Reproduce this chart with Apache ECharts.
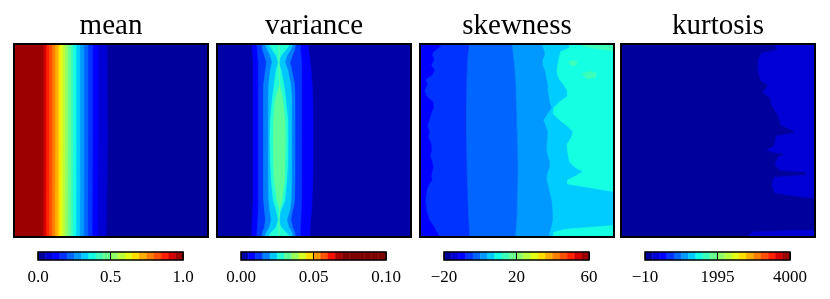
<!DOCTYPE html>
<html><head><meta charset="utf-8">
<script src="https://cdn.jsdelivr.net/npm/echarts@6/dist/echarts.min.js"></script>
<style>html,body{margin:0;padding:0;background:#fff}#c{width:830px;height:299px}</style>
</head><body><div id="c"></div>
<script>
// ---------- DATA ----------
const titles = ['mean', 'variance', 'skewness', 'kurtosis'];

// contour levels (colorbar bands)
const meanLevels = [0,0.05,0.1,0.15,0.2,0.25,0.3,0.35,0.4,0.45,0.5,0.55,0.6,0.65,0.7,0.75,0.8,0.85,0.9,0.95,1.0];
const varLevels = [0,0.005,0.01,0.015,0.02,0.025,0.03,0.035,0.04,0.045,0.05,0.055,0.06,0.065,0.07,0.075,0.08,0.085,0.09,0.095,0.1];
const skewLevels = [-20,-16,-12,-8,-4,0,4,8,12,16,20,24,28,32,36,40,44,48,52,56,60];
const kurtLevels = [-10,190.5,391,591.5,792,992.5,1193,1393.5,1594,1794.5,1995,2195.5,2396,2596.5,2797,2997.5,3198,3398.5,3599,3799.5,4000];

// colorbar tick values and labels
const meanTickVals = [0, 0.5, 1.0];      const meanTicks = ['0.0', '0.5', '1.0'];
const varTickVals = [0, 0.05, 0.1];      const varTicks = ['0.00', '0.05', '0.10'];
const skewTickVals = [-20, 20, 60];      const skewTicks = ['\u221220', '20', '60'];
const kurtTickVals = [-10, 1995, 4000];  const kurtTicks = ['\u221210', '1995', '4000'];

// mean: contour x-positions (0..100) at y = meanYs, for levels 0.05 .. 0.95 (field >= level left of line)
const meanYs = [0, 50, 100];
const meanEdges = [
  [47.9,48.2,47.4],[43.3,43.3,43.0],[40.5,40.5,40.3],[38.1,38.1,38.0],[36.1,36.1,36.0],
  [34.0,34.0,33.9],[32.0,32.0,31.9],[30.4,30.4,30.3],[29.1,29.1,29.0],[27.6,27.6,27.5],
  [26.3,26.3,26.2],[25.0,25.0,24.9],[23.7,23.7,23.6],[22.7,22.7,22.6],[21.1,21.1,21.0],
  [19.6,19.6,19.5],[18.0,18.0,17.9],[16.5,16.5,16.4],[15.1,15.1,15.0]
];

// variance: ridge, field >= level between lo and hi, sampled at varYs
const varYs = [0,3,6,9.5,13.5,21,29,39.5,50,60,70.5,81,86,91,95,97.5,100];
const var005Lo = [18.0,18.2,18.4,18.6,18.6,18.6,18.6,18.6,18.6,18.6,18.6,18.6,18.4,18.2,18.0,18.0,18.0];
const var005Hi = [46.9,47.2,47.6,48,48.5,49,49.3,49.5,49.5,49.5,49.3,49,48.7,48.3,48,47.9,47.9];
const var010Lo = [20.5,20.8,21,21.3,21.3,21.3,21.3,21.3,21.3,21.3,21.3,21.3,21.3,21,20.8,20.6,20.5];
const var010Hi = [42.8,43,43.3,43.6,43.6,43.6,43.6,43.6,43.6,43.6,43.6,43.6,43.4,43.2,43,42.9,42.8];
const var015Lo = [23,23.5,24.5,25.6,25,24,23.9,23.9,23.9,23.9,23.9,24,24.5,25,24.5,23.5,23];
const var015Hi = [40.5,40,38.8,37.6,38.5,40,40.2,40.2,40.2,40.2,40.2,40,39,38,39,40,40.5];
const var020Lo = [24.7,26,27.5,28.5,27.5,26.7,26.5,26.5,26.5,26.5,26.5,26.7,27.2,28,27,25.5,24.7];
const var020Hi = [39.2,38,36,35,36.5,38,38.5,38.5,38.5,38.5,38.5,38.2,37.5,36,37,38.5,39.2];
const var025Lo = [26.5,28.5,30.5,31.6,30.5,29.5,28.5,27.5,27.3,27.5,28,29,30.5,31.6,30.5,28,26.5];
const var025Hi = [37.6,35.5,33,31.6,33,34.5,35.5,36.5,36.6,36.5,36,35,33,31.6,33,35.5,37.6];
const var030Lo = [32,32,32,32,32,32.3,30,29.2,29,29.2,29.5,31,32.3,32,32,32,32];
const var030Hi = [32,32,32,32,32,32.3,34,35,35.2,35,34.8,33.5,32.3,32,32,32,32];

// skewness: field >= level right of the edge, sampled at skewYs
const skewYs = [0,2,4,6,8,11,13.5,16,18.5,21,24,27,30,33,36,39.5,42.5,45.5,48.5,52,55,58,61,64,66,68.5,70.5,72.5,74.5,76.5,81,86,91,94,96,97.5,100];
const skewEdgeM8 = [11.3,10,7,6.5,7.5,6,7.7,6.5,3,4,2.5,3.5,7,7.2,6,5,4,5,4.5,6,6.2,5.5,6.5,7,6.5,6,6.5,5,4,3.6,3,3.5,5,7,8,9,10.3];
const skewEdgeM4 = [25.5,25.3,25.0,24.8,24.6,24.5,24.4,24.3,24.2,24.2,24.1,24.1,24.0,24.0,24.0,24.0,24.0,24.0,24.0,24.1,24.1,24.2,24.2,24.3,24.3,24.4,24.5,24.5,24.6,24.7,24.8,25.0,25.2,25.4,25.5,25.6,25.7];
const skewEdge0 = [47.5,47.8,48,48.2,48.5,48.8,49,49.2,49.4,49.5,49.6,49.6,49.8,49.8,50,50,50,50.2,50.3,50.4,50.5,50.5,50.6,50.6,50.6,50.6,50.5,50.5,50.4,50.4,50.3,50.2,50,49.8,49.6,49.5,49.3];
const skewEdge4 = [62.9,63.5,64.4,64.4,63.4,63.4,64.5,65,65.5,66,66,66.5,67,68,66,63.8,65,66,65.8,65.5,65.5,66,67,67,66,65.5,65.5,66,66.5,67,68,68.5,68.6,68,67.5,67,66.5];
const skewEdge8 = [77,77,72.5,72,71.5,71,70.6,71,72,74,75.8,76,72,69,68.6,72,76,78.9,78,75.8,76,76.5,77,80,84,80,76,76,88,100,100,100,100,100,75,69,68.5];
const skewIsland12a = [[83,0],[100,0],[100,3.5],[95,3],[88,2],[84,1]];
const skewIsland12b = [[76.5,9.5],[78.5,8.5],[81,9.2],[80.5,11],[78,11.2]];
const skewIsland12c = [[83.5,15.5],[87,14.3],[91,15],[90,17.5],[86,18]];

// kurtosis: field >= 190.5 right of the edge
const kurtYs = [0,1.6,3.1,4.7,8.3,13.5,18.7,21.8,24.9,28,32.1,36.8,42,44.6,46.1,47.7,52.8,54.9,56,57,58.5,62.7,65.3,66.3,67.9,69,73,77.2,78.8,79.8,96.4,97.4,100];
const kurtEdge = [79,80,81,72.7,70.6,70.6,72,75.8,73,77,77.8,81,82.5,88,89.7,80,79,75.3,78,85,81,79.4,82,95,96,79,77.8,79.4,90,100,100,68,65];

// ---------- STYLE / BUILD ----------
const FONT = 'Liberation Serif';
const panelLeft = [14, 217, 420, 621];
const PW = 194, PT = 44, PH = 193;
const levelsAll = [meanLevels, varLevels, skewLevels, kurtLevels];
const colorRange = [[0,1],[0,0.07],[-20,60],[-10,4000]];
const tickVals = [meanTickVals, varTickVals, skewTickVals, kurtTickVals];
const tickLabels = [meanTicks, varTicks, skewTicks, kurtTicks];

function jet(t){
  t = Math.max(0, Math.min(1, t));
  let r, g, b;
  if (t < 0.35) r = 0; else if (t < 0.66) r = (t-0.35)/0.31; else if (t < 0.89) r = 1; else r = 1 - 0.5*(t-0.89)/0.11;
  if (t < 0.125) g = 0; else if (t < 0.375) g = (t-0.125)/0.25; else if (t < 0.64) g = 1; else if (t < 0.91) g = 1-(t-0.64)/0.27; else g = 0;
  if (t < 0.11) b = 0.5 + 0.5*t/0.11; else if (t < 0.34) b = 1; else if (t < 0.65) b = 1-(t-0.34)/0.31; else b = 0;
  return 'rgb(' + Math.round(r*255) + ',' + Math.round(g*255) + ',' + Math.round(b*255) + ')';
}
function bandColor(p, lv){
  const L = levelsAll[p];
  let i = 0; for (let k = 0; k < L.length-1; k++) if (Math.abs(L[k]-lv) < 1e-9) i = k;
  const mid = (L[i]+L[i+1])/2, cr = colorRange[p];
  return jet((mid-cr[0])/(cr[1]-cr[0]));
}
function strip(ys, lo, hi){
  const a = [], b = [];
  ys.forEach((y, i) => {
    a.push([typeof lo === 'number' ? lo : lo[i], y]);
    b.push([typeof hi === 'number' ? hi : hi[i], y]);
  });
  return a.concat(b.reverse());
}
const FULL = [[0,0],[100,0],[100,100],[0,100]];

const regions = [
  [{lv:0, pts:FULL}].concat(meanEdges.map((e, k) => ({lv: meanLevels[k+1], pts: strip(meanYs, 0, e)}))),
  [{lv:0, pts:FULL},
   {lv:0.005, pts: strip(varYs, var005Lo, var005Hi)},
   {lv:0.01, pts: strip(varYs, var010Lo, var010Hi)},
   {lv:0.015, pts: strip(varYs, var015Lo, var015Hi)},
   {lv:0.02, pts: strip(varYs, var020Lo, var020Hi)},
   {lv:0.025, pts: strip(varYs, var025Lo, var025Hi)},
   {lv:0.03, pts: strip(varYs, var030Lo, var030Hi)}],
  [{lv:-12, pts:FULL},
   {lv:-8, pts: strip(skewYs, skewEdgeM8, 100)},
   {lv:-4, pts: strip(skewYs, skewEdgeM4, 100)},
   {lv:0, pts: strip(skewYs, skewEdge0, 100)},
   {lv:4, pts: strip(skewYs, skewEdge4, 100)},
   {lv:8, pts: strip(skewYs, skewEdge8, 100)},
   {lv:12, pts: skewIsland12a},
   {lv:12, pts: skewIsland12b},
   {lv:12, pts: skewIsland12c}],
  [{lv:-10, pts:FULL},
   {lv:190.5, pts: strip(kurtYs, kurtEdge, 100)}]
];
regions.forEach((rs, p) => rs.forEach(r => r.color = bandColor(p, r.lv)));

const grid = [], xAxis = [], yAxis = [], series = [], title = [];
for (let p = 0; p < 4; p++) {
  // main panel
  grid.push({left: panelLeft[p], top: PT, width: PW, height: PH, containLabel: false});
  xAxis.push({type:'value', gridIndex: 2*p, min:0, max:100, show:false});
  yAxis.push({type:'value', gridIndex: 2*p, min:0, max:100, inverse:true, show:false});
  const regs = regions[p];
  series.push({
    type:'custom', xAxisIndex: 2*p, yAxisIndex: 2*p, clip: true, silent: true,
    data: regs.map((r, i) => [i]),
    encode: {x: 0, y: 0},
    renderItem: (params, api) => {
      const r = regs[params.dataIndex];
      return {type:'polygon', shape:{points: r.pts.map(q => api.coord(q))},
              style:{fill: r.color, stroke: r.color, lineWidth: 0.6}};
    }
  });
  series.push({
    type:'custom', xAxisIndex: 2*p, yAxisIndex: 2*p, silent: true, z: 5,
    data: [[0]], encode: {x: 0, y: 0},
    renderItem: (params, api) => {
      const a = api.coord([0,0]), b = api.coord([100,100]);
      return {type:'rect', shape:{x: Math.min(a[0],b[0]), y: Math.min(a[1],b[1]), width: Math.abs(b[0]-a[0]), height: Math.abs(b[1]-a[1])},
              style:{fill: null, stroke:'#000', lineWidth: 2}};
    }
  });
  // colorbar
  const L = levelsAll[p];
  grid.push({left: panelLeft[p] + 24, top: 252, width: 145, height: 8, containLabel: false});
  const tv = tickVals[p], tl = tickLabels[p];
  xAxis.push({type:'value', gridIndex: 2*p+1, min: L[0], max: L[L.length-1], interval: tv[1]-tv[0], z: 10,
    axisLine:{show:false}, splitLine:{show:false},
    axisTick:{show:true, inside:true, length: 8, lineStyle:{color:'#000', width:1}},
    axisLabel:{show:true, margin: 9, color:'#000', fontFamily: FONT, fontSize: 17, showMinLabel: true, showMaxLabel: true, hideOverlap: false,
      formatter: (v) => { let s = ''; tv.forEach((t, i) => { if (Math.abs(t-v) < 1e-6*Math.max(1,Math.abs(t))) s = tl[i]; }); return s; }}
  });
  yAxis.push({type:'value', gridIndex: 2*p+1, min:0, max:1, show:false});
  series.push({
    type:'custom', xAxisIndex: 2*p+1, yAxisIndex: 2*p+1, silent: true,
    data: L.slice(0, -1).map((v, i) => [i]), encode: {x: 0, y: 0},
    renderItem: (params, api) => {
      const i = params.dataIndex;
      const a = api.coord([L[i], 0]), b = api.coord([L[i+1], 1]);
      const c = bandColor(p, L[i]);
      return {type:'rect', shape:{x: a[0], y: b[1], width: b[0]-a[0], height: a[1]-b[1]},
              style:{fill: c, stroke: c, lineWidth: 0.5}};
    }
  });
  series.push({
    type:'custom', xAxisIndex: 2*p+1, yAxisIndex: 2*p+1, silent: true, z: 5,
    data: [[0]], encode: {x: 0, y: 0},
    renderItem: (params, api) => {
      const a = api.coord([L[0], 0]), b = api.coord([L[L.length-1], 1]);
      return {type:'rect', shape:{x: a[0], y: b[1], width: b[0]-a[0], height: a[1]-b[1]},
              style:{fill: null, stroke:'#000', lineWidth: 1.5}};
    }
  });
  title.push({text: titles[p], left: panelLeft[p] + PW/2, top: 12, textAlign: 'center', padding: 0,
    textStyle:{fontFamily: FONT, fontSize: 29, fontWeight: 'normal', color: '#000'}});
}

const chart = echarts.init(document.getElementById('c'), null, {renderer: 'canvas'});
chart.setOption({backgroundColor: '#fff', animation: false, title, grid, xAxis, yAxis, series});
</script>
</body></html>
